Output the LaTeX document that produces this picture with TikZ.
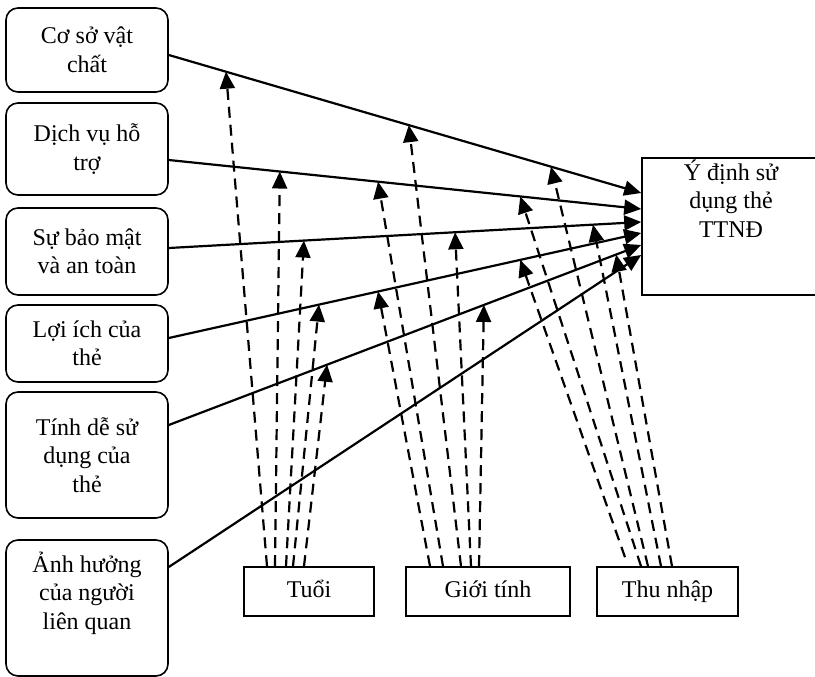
\documentclass[tikz,border=0pt]{standalone}
\usepackage{fontspec}
\setmainfont{Liberation Serif}
\usetikzlibrary{arrows.meta}

\tikzset{
  factor/.style={draw, line width=1.6pt, rounded corners=12pt, minimum width=162pt,
    align=center, inner sep=0pt, font=\fontsize{24}{28.5}\selectfont},
  control/.style={draw, line width=1.6pt, minimum height=49pt, text height=16pt, text depth=4pt,
    font=\fontsize{24}{28.5}\selectfont},
  effect/.style={line width=2.2pt, -{Triangle[length=17pt,width=15pt]}},
  moderate/.style={effect, dash pattern=on 11pt off 7pt},
}

\begin{document}
\begin{tikzpicture}[x=1pt, y=-1pt]
\useasboundingbox (0,0) rectangle (815,677);
% nhan to
\node[factor, minimum height=84pt] (csvc) at (87,50) {Cơ sở vật\\chất};
\node[factor, minimum height=92pt] (dvht) at (87,149) {Dịch vụ hỗ\\trợ};
\node[factor, minimum height=87pt] (bmat) at (87,251.5) {Sự bảo mật\\và an toàn};
\node[factor, minimum height=77pt] (loiich) at (87,343.5) {Lợi ích của\\thẻ};
\node[factor, minimum height=126pt] (desd) at (87,455) {Tính dễ sử\\dụng của\\thẻ};
\node[factor, minimum height=136pt] (anhhuong) at (87,608) {Ảnh hưởng\\của người\\liên quan\\[6pt]};
% bien phu thuoc
\node[draw, line width=1.6pt, minimum width=190pt, minimum height=137pt] (ydinh) at (737,226.5) {};
\node[anchor=north, align=center, font=\fontsize{24}{28.5}\selectfont] (ydinhtext) at (731,156) {Ý định sử\\dụng thẻ\\TTNĐ};
% bien kiem soat
\node[control, minimum width=130pt] (tuoi) at (309,591.5) {Tuổi};
\node[control, minimum width=164pt] (gioitinh) at (488,591.5) {Giới tính};
\node[control, minimum width=141pt] (thunhap) at (667.5,591.5) {Thu nhập};

\draw[effect] ([yshift=-5pt]csvc.east) -- ([yshift=33.5pt]ydinh.west)
  coordinate[pos=.121] (csvc1) coordinate[pos=.508] (csvc2) coordinate[pos=.809] (csvc3);
\draw[effect] ([yshift=-11pt]dvht.east) -- ([yshift=17.5pt]ydinh.west)
  coordinate[pos=.235] (dvht1) coordinate[pos=.443] (dvht2) coordinate[pos=.744] (dvht3);
\draw[effect] ([yshift=3.5pt]bmat.east) -- ([yshift=4.5pt]ydinh.west)
  coordinate[pos=.286] (bmat1) coordinate[pos=.606] (bmat2) coordinate[pos=.898] (bmat3);
\draw[effect] ([yshift=5.5pt]loiich.east) -- ([yshift=-6.5pt]ydinh.west)
  coordinate[pos=.318] (loiich1) coordinate[pos=.443] (loiich2) coordinate[pos=.744] (loiich3);
\draw[effect] ([yshift=30pt]desd.east) -- ([yshift=-18.5pt]ydinh.west)
  coordinate[pos=.335] (desd1) coordinate[pos=.667] (desd2) coordinate[pos=.947] (desd3);
\draw[effect] ([yshift=41pt]anhhuong.east) -- ([yshift=-28.5pt]ydinh.west);

% tuoi
\draw[moderate] ([xshift=-42pt]tuoi.north) -- (csvc1);
\draw[moderate] ([xshift=-34pt]tuoi.north) -- (dvht1);
\draw[moderate] ([xshift=-23pt]tuoi.north) -- (bmat1);
\draw[moderate] ([xshift=-16pt]tuoi.north) -- (loiich1);
\draw[moderate] ([xshift=-5pt]tuoi.north) -- (desd1);
% gioi tinh
\draw[moderate] ([xshift=-58pt]gioitinh.north) -- (loiich2);
\draw[moderate] ([xshift=-45pt]gioitinh.north) -- (dvht2);
\draw[moderate] ([xshift=-27pt]gioitinh.north) -- (csvc2);
\draw[moderate] ([xshift=-17pt]gioitinh.north) -- (bmat2);
\draw[moderate] ([xshift=-9pt]gioitinh.north) -- (desd2);
% thu nhap
\draw[moderate] ([xshift=-42.5pt,yshift=9pt]thunhap.north) -- (loiich3);
\draw[moderate] ([xshift=-26.5pt]thunhap.north) -- (dvht3);
\draw[moderate] ([xshift=-19.5pt]thunhap.north) -- (csvc3);
\draw[moderate] ([xshift=-6.5pt]thunhap.north) -- (bmat3);
\draw[moderate] ([xshift=4.5pt]thunhap.north) -- (desd3);
\end{tikzpicture}
\end{document}
